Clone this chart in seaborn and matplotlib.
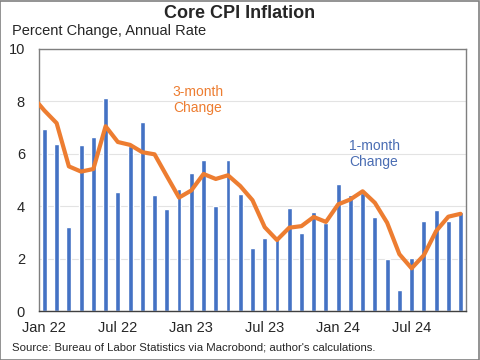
import matplotlib
matplotlib.use('Agg')
import numpy as np
import matplotlib.pyplot as plt
import seaborn as sns
from matplotlib.patches import Rectangle

sns.set_style("white")
plt.rcParams['font.family'] = ['Liberation Sans', 'DejaVu Sans']

# monthly data, Jan 22 .. Nov 24
months = [f"{m} {y}" for y in (22, 23, 24)
          for m in ("Jan", "Feb", "Mar", "Apr", "May", "Jun",
                    "Jul", "Aug", "Sep", "Oct", "Nov", "Dec")][:35]

one_month = [6.95, 6.39, 3.22, 6.34, 6.65, 8.14, 4.55, 6.29, 7.2, 4.41, 3.88, 4.65,
             5.27, 5.78, 4.0, 5.78, 4.46, 2.4, 2.79, 2.85, 3.93, 2.97, 3.78, 3.35,
             4.84, 4.42, 4.51, 3.6, 2.0, 0.81, 2.03, 3.45, 3.84, 3.45, 3.79]

# 3-month series starts one month earlier (Dec 21, clipped at the axis edge)
three_month = [8.2, 7.65, 7.17, 5.52, 5.32, 5.42, 7.05, 6.45, 6.34, 6.06, 5.98, 5.15, 4.33,
               4.6, 5.23, 5.04, 5.18, 4.77, 4.23, 3.2, 2.71, 3.18, 3.24, 3.59, 3.4,
               4.07, 4.26, 4.57, 4.13, 3.37, 2.17, 1.63, 2.13, 3.05, 3.6, 3.71]

tick_labels = ["Jan 22", "Jul 22", "Jan 23", "Jul 23", "Jan 24", "Jul 24"]

blue = "#4472C4"
orange = "#ED7D31"

fig = plt.figure(figsize=(4.8, 3.6), dpi=100)
ax = fig.add_axes([0.081, 0.136, 0.89, 0.728])

sns.barplot(x=months, y=one_month, color=blue, width=0.4, saturation=1, ax=ax, zorder=2)
sns.lineplot(x=np.arange(-1, 35), y=three_month, color=orange, linewidth=3.0, ax=ax, zorder=3)

ax.set_xlim(-0.45, 34.45)
ax.set_ylim(0, 10)
ax.set_yticks([0, 2, 4, 6, 8, 10])
ax.set_yticklabels(["0", "2", "4", "6", "8", "10"])
ax.yaxis.grid(True, color="#e3e3e3", linewidth=0.8, zorder=0)
ax.set_axisbelow(True)

# labels centred on Jan/Jul bars, tick marks at the month boundaries
ax.set_xticks(np.arange(5.5, 34, 6))
ax.set_xticklabels([])
ax.set_xticks(np.arange(0, 35, 6), minor=True)
ax.set_xticklabels(tick_labels, minor=True)
ax.tick_params(axis="x", which="major", direction="in", length=3, color="#404040", width=1)
ax.tick_params(axis="x", which="minor", length=0, pad=7, labelsize=10.5)
ax.tick_params(axis="y", length=0, pad=10, labelsize=10.5)
ax.set_xlabel("")
ax.set_ylabel("")

for side in ("top", "left", "right"):
    ax.spines[side].set_color("#7f7f7f")
    ax.spines[side].set_linewidth(1.0)
ax.spines["bottom"].set_color("#404040")
ax.spines["bottom"].set_linewidth(1.0)

ax.text(198 / 480, 1 - 100 / 360, "3-month\nChange", transform=fig.transFigure,
        color=orange, fontsize=10, ha="center", va="center", linespacing=1.15)
ax.text(349 / 480, 1 - 154 / 360, "1-month\nChange", transform=fig.transFigure,
        color="#4a6db3", fontsize=10, ha="left", va="center", linespacing=1.15)

fig.text(0.5, 1 - 14 / 360, "Core CPI Inflation", ha="center", va="center",
         fontsize=13, fontweight="bold")
fig.text(12 / 480, 1 - 30.5 / 360, "Percent Change, Annual Rate", ha="left", va="center",
         fontsize=10.5)
fig.text(12 / 480, 1 - 348 / 360,
         "Source: Bureau of Labor Statistics via Macrobond; author's calculations.",
         ha="left", va="center", fontsize=8.2)

fig.patches.append(Rectangle((0.001, 0.001), 0.997, 0.996, transform=fig.transFigure,
                             fill=False, edgecolor="#808080", linewidth=1.2))

fig.savefig("out.png", dpi=100)
